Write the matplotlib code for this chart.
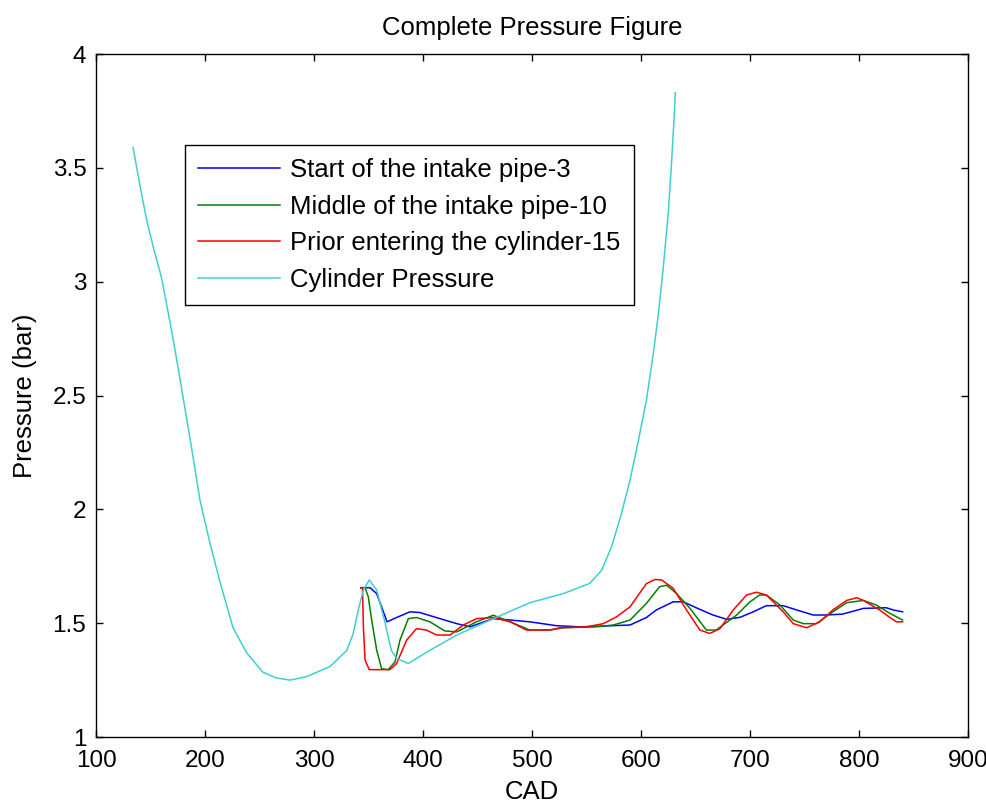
import matplotlib
matplotlib.use('Agg')
import matplotlib.pyplot as plt
from matplotlib.ticker import FormatStrFormatter

# ── DATA ─────────────────────────────────────────────────────────────────────
cad_start = [343, 351.4, 357.5, 362, 367, 375.8, 388, 397, 415.6, 431, 443,
             464.5, 480, 498, 522.6, 544, 590, 605, 614, 629.6, 638.8, 652,
             666, 678.6, 691, 703, 715, 730.5, 745, 758, 770, 785, 804, 825,
             831.5, 840]
p_start = [1.656, 1.656, 1.63, 1.572, 1.506, 1.525, 1.55, 1.547, 1.52, 1.498,
           1.484, 1.52, 1.514, 1.506, 1.489, 1.484, 1.492, 1.525, 1.558, 1.594,
           1.594, 1.565, 1.536, 1.517, 1.526, 1.55, 1.577, 1.577, 1.555, 1.536,
           1.536, 1.54, 1.565, 1.568, 1.558, 1.55]

cad_middle = [343, 346.8, 349.8, 352.9, 357.5, 362, 368, 374.3, 378.9, 386.5,
              394, 406.4, 420, 431, 449, 464.5, 480, 498, 516.5, 528.7, 559,
              574.6, 590, 605, 617, 623.5, 632.7, 645, 660, 669, 687.8, 700,
              709, 715, 727.5, 739.7, 749, 761, 776, 788.7, 804, 816, 828.4,
              840]
p_middle = [1.656, 1.656, 1.616, 1.514, 1.382, 1.30, 1.296, 1.33, 1.426, 1.52,
            1.525, 1.506, 1.466, 1.462, 1.506, 1.535, 1.506, 1.47, 1.47, 1.48,
            1.484, 1.492, 1.514, 1.587, 1.66, 1.667, 1.63, 1.565, 1.47, 1.47,
            1.536, 1.594, 1.624, 1.624, 1.58, 1.514, 1.498, 1.498, 1.55, 1.59,
            1.60, 1.58, 1.543, 1.514]

cad_prior = [343, 344.5, 345.3, 346.8, 350.7, 369.7, 375.8, 385, 394, 403,
             412.6, 424.8, 437, 449, 464.5, 480, 495, 516.5, 525.7, 550, 565.4,
             577.6, 590, 605, 612.8, 619, 629.6, 641.8, 654, 663, 672.5, 684.6,
             696.9, 706, 715, 730.5, 739.7, 752, 764, 776, 788.7, 798, 804, 819,
             828.4, 834.5, 840]
p_prior = [1.656, 1.656, 1.485, 1.338, 1.296, 1.296, 1.323, 1.426, 1.476, 1.47,
           1.448, 1.448, 1.492, 1.52, 1.525, 1.506, 1.47, 1.47, 1.48, 1.484,
           1.498, 1.528, 1.572, 1.674, 1.692, 1.69, 1.653, 1.558, 1.47, 1.455,
           1.476, 1.558, 1.624, 1.636, 1.624, 1.55, 1.498, 1.48, 1.506, 1.558,
           1.60, 1.612, 1.60, 1.558, 1.525, 1.506, 1.506]

cad_cyl = [134, 140.4, 146.5, 152.6, 160, 166, 172.5, 181.7, 188, 195.4, 204.6,
           213.8, 225.7, 238.2, 253, 265, 278, 293, 314.7, 330, 336, 340.6,
           345.3, 350.7, 357.5, 360.6, 365, 368, 371, 375.8, 386.5, 406, 431,
           458, 498, 528.7, 553, 564, 573, 582, 590, 597.5, 605, 611.3, 616,
           620.5, 625, 628, 630.6, 631.5]
p_cyl = [3.59, 3.42, 3.27, 3.15, 3.02, 2.87, 2.70, 2.44, 2.26, 2.04, 1.85,
         1.68, 1.48, 1.37, 1.285, 1.26, 1.25, 1.265, 1.31, 1.38, 1.455, 1.558,
         1.646, 1.69, 1.646, 1.587, 1.506, 1.44, 1.38, 1.345, 1.323, 1.38,
         1.448, 1.506, 1.59, 1.63, 1.675, 1.733, 1.836, 1.98, 2.13, 2.30, 2.48,
         2.685, 2.86, 3.065, 3.30, 3.52, 3.74, 3.83]

LABELS = ["Start of the intake pipe-3", "Middle of the intake pipe-10",
          "Prior entering the cylinder-15", "Cylinder Pressure"]
COLORS = ["#0000ff", "#008000", "#ff0000", "#3fcfcf"]

X_TICKS = list(range(100, 901, 100))
Y_TICKS = [1, 1.5, 2, 2.5, 3, 3.5, 4]

plt.rcParams['font.family'] = ['Liberation Sans', 'DejaVu Sans']
FS = 18.5
FS_TICK = 17.5

fig = plt.figure(figsize=(9.87, 8.07), dpi=100)
ax = fig.add_axes([0.0973, 0.0867, 0.8834, 0.8463])

series = [(cad_start, p_start), (cad_middle, p_middle),
          (cad_prior, p_prior), (cad_cyl, p_cyl)]
for (x, y), lab, col in zip(series, LABELS, COLORS):
    ax.plot(x, y, color=col, lw=1.1, label=lab)

ax.set_xlim(100, 900)
ax.set_ylim(1, 4)
ax.set_xticks(X_TICKS)
ax.set_yticks(Y_TICKS)
ax.yaxis.set_major_formatter(FormatStrFormatter('%g'))
ax.tick_params(direction='in', length=5, width=1, top=True, right=True,
               labelsize=FS_TICK)
ax.tick_params(axis='x', pad=9)
ax.tick_params(axis='y', pad=7)
for s in ax.spines.values():
    s.set_linewidth(1.0)

ax.set_title('Complete Pressure Figure', fontsize=FS, pad=14)
ax.set_xlabel('CAD', fontsize=FS, labelpad=6)
ax.set_ylabel('Pressure (bar)', fontsize=FS, labelpad=11)

leg = ax.legend(loc='upper left', bbox_to_anchor=(0.102, 0.867),
                fontsize=FS, fancybox=False, framealpha=1, edgecolor='black',
                borderaxespad=0, borderpad=0.5, handlelength=3.2,
                handletextpad=0.4, labelspacing=0.5)
leg.get_frame().set_linewidth(1.0)

plt.savefig('out.png', dpi=100)
